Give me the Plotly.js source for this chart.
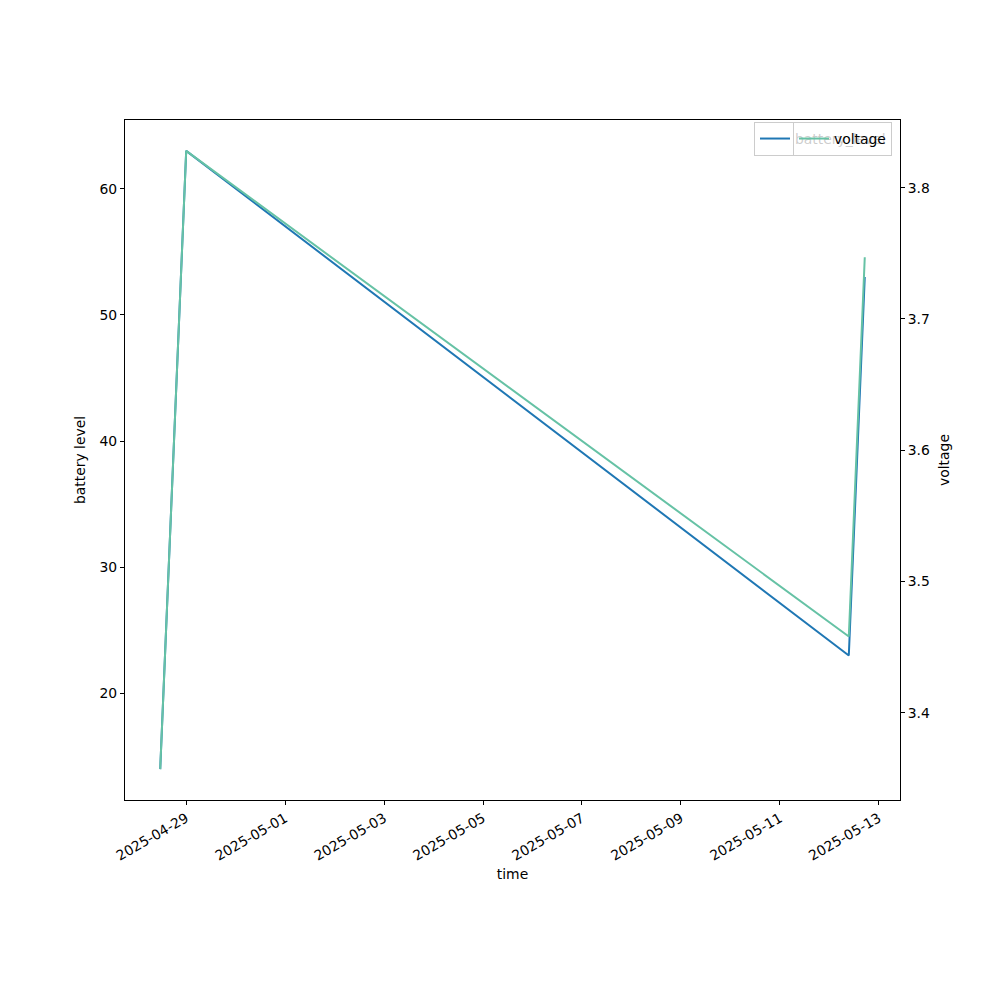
<!DOCTYPE html>
<html>
<head>
<meta charset="utf-8">
<script src="https://cdn.plot.ly/plotly-3.0.1.min.js"></script>
<style>html,body{margin:0;padding:0;background:#fff}#chart{width:1000px;height:1000px}</style>
</head>
<body>
<div id="chart"></div>
<script>
const times = ['2025-04-28 11:24', '2025-04-29 00:00', '2025-05-12 09:27', '2025-05-12 17:12'];
const batteryLevel = [14, 63, 23, 53];
const voltage = [3.357, 3.828, 3.458, 3.747];
const xTickVals = ['2025-04-29','2025-05-01','2025-05-03','2025-05-05','2025-05-07','2025-05-09','2025-05-11','2025-05-13'];
const leftTicks = [20, 30, 40, 50, 60];
const rightTicks = [3.4, 3.5, 3.6, 3.7, 3.8];

const FONT = 'DejaVu Sans, sans-serif';
const FS = 13.9;

const traces = [
  {x: times, y: batteryLevel, type: 'scatter', mode: 'lines', name: 'battery_level',
   line: {color: '#1f77b4', width: 2}, yaxis: 'y', legend: 'legend'},
  {x: times, y: voltage, type: 'scatter', mode: 'lines', name: 'voltage',
   line: {color: '#66c2a5', width: 2}, yaxis: 'y2', legend: 'legend2'}
];

function pad(arr){const mn=Math.min(...arr), mx=Math.max(...arr); const d=(mx-mn)*0.05; return [mn-d, mx+d];}
const t0 = new Date(times[0].replace(' ','T')+':00Z').getTime();
const t1 = new Date(times[times.length-1].replace(' ','T')+':00Z').getTime();
const dt = (t1-t0)*0.05;
const fmt = ms => new Date(ms).toISOString().replace('T',' ').slice(0,19);

const layout = {
  width: 1000, height: 1000,
  margin: {l: 125, r: 100, t: 120, b: 200},
  paper_bgcolor: '#fff', plot_bgcolor: '#fff',
  font: {family: FONT, size: FS, color: '#000'},
  showlegend: true,
  xaxis: {
    type: 'date', range: [fmt(t0-dt), fmt(t1+dt)],
    tickvals: xTickVals, ticktext: xTickVals, tickangle: -30,
    ticks: 'outside', ticklen: 4, tickwidth: 1, tickcolor: '#000',
    showline: true, linecolor: '#000', linewidth: 1, mirror: true,
    showgrid: false, zeroline: false,
    title: {text: 'time', font: {family: FONT, size: FS}, standoff: 6},
    tickfont: {family: FONT, size: FS}
  },
  yaxis: {
    range: pad(batteryLevel), tickvals: leftTicks,
    ticks: 'outside', ticklen: 4, tickwidth: 1, tickcolor: '#000',
    showline: true, linecolor: '#000', linewidth: 1,
    showgrid: false, zeroline: false,
    title: {text: 'battery level', font: {family: FONT, size: FS}, standoff: 10},
    tickfont: {family: FONT, size: FS}
  },
  yaxis2: {
    overlaying: 'y', side: 'right',
    range: pad(voltage), tickvals: rightTicks, ticktext: rightTicks.map(v=>v.toFixed(1)),
    ticks: 'outside', ticklen: 4, tickwidth: 1, tickcolor: '#000',
    showline: true, linecolor: '#000', linewidth: 1,
    showgrid: false, zeroline: false,
    title: {text: 'voltage', font: {family: FONT, size: FS}, standoff: 10},
    tickfont: {family: FONT, size: FS}
  },
  legend: {
    x: (892-125)/775, xanchor: 'right', y: (800-122)/680, yanchor: 'top',
    bgcolor: 'rgba(255,255,255,0.8)', bordercolor: '#cccccc', borderwidth: 1,
    font: {family: FONT, size: FS}
  },
  legend2: {
    x: (892-125)/775, xanchor: 'right', y: (800-122)/680, yanchor: 'top',
    bgcolor: 'rgba(255,255,255,0.8)', bordercolor: '#cccccc', borderwidth: 1,
    font: {family: FONT, size: FS}
  }
};

Plotly.newPlot('chart', traces, layout, {displayModeBar: false, staticPlot: true});
</script>
</body>
</html>
